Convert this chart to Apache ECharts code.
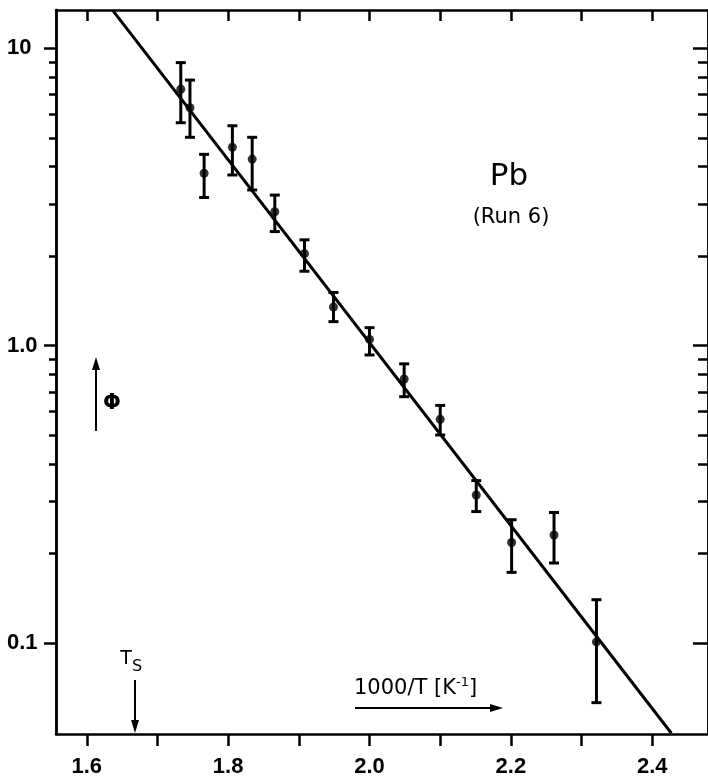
<!DOCTYPE html>
<html>
<head>
<meta charset="utf-8">
<script src="https://cdn.jsdelivr.net/npm/echarts@6/dist/echarts.min.js"></script>
<style>
  html, body { margin: 0; padding: 0; background: #fff; }
  #main { width: 708px; height: 782px; }
</style>
</head>
<body>
<div id="main"></div>
<script>
// measured points, 1000/T in K^-1 and phi (log scale)
var invT = [1.733, 1.746, 1.766, 1.806, 1.834, 1.866, 1.908, 1.949, 2.000, 2.049, 2.100, 2.151, 2.201, 2.261, 2.321];
var phi = [7.28, 6.31, 3.80, 4.65, 4.24, 2.82, 2.04, 1.35, 1.05, 0.773, 0.566, 0.315, 0.218, 0.231, 0.101];
var phiHigh = [8.95, 7.82, 4.40, 5.49, 5.02, 3.21, 2.27, 1.51, 1.15, 0.869, 0.630, 0.352, 0.260, 0.275, 0.140];
var phiLow = [5.62, 5.02, 3.15, 3.75, 3.34, 2.42, 1.78, 1.205, 0.931, 0.674, 0.501, 0.277, 0.173, 0.186, 0.0631];

// fitted straight line
var fitX = [1.637, 2.427];
var fitY = [13.38, 0.0498];

// axis ticks
var xTicks = [1.6, 1.7, 1.8, 1.9, 2.0, 2.1, 2.2, 2.3, 2.4];
var xLabels = [1.6, 1.8, 2.0, 2.2, 2.4];
var yMajor = [0.1, 1, 10];
var yMinor = [0.2, 0.3, 0.4, 0.5, 0.6, 0.7, 0.8, 0.9, 2, 3, 4, 5, 6, 7, 8, 9];
var yLabelText = { '-1': '0.1', '0': '1.0', '1': '10' };

var lg = function (v) { return Math.log10(v) };
var X_MIN = 1.5565, X_MAX = 2.4788;
var Y_MIN = lg(0.0495), Y_MAX = lg(13.45);
var FONT = 'Liberation Sans';

var chart = echarts.init(document.getElementById('main'));

function xAxis(pos, showLabel, inside, len) {
  return {
    type: 'value', position: pos, min: X_MIN, max: X_MAX,
    axisLine: { show: true, onZero: false, lineStyle: { color: '#000', width: 2.5 } },
    axisTick: { show: true, inside: inside, length: len, customValues: xTicks, lineStyle: { color: '#000', width: 2.5 } },
    axisLabel: {
      show: showLabel, customValues: xLabels, margin: 22,
      color: '#000', fontSize: 22, fontWeight: 'bold', fontFamily: FONT,
      formatter: function (v) { return v.toFixed(1) }
    },
    splitLine: { show: false }
  };
}

function yAxis(pos, vals, len, inside, showLabel) {
  return {
    type: 'value', position: pos, min: Y_MIN, max: Y_MAX,
    axisLine: { show: true, onZero: false, lineStyle: { color: '#000', width: 2.5 } },
    axisTick: { show: true, inside: inside, length: len, customValues: vals.map(lg), lineStyle: { color: '#000', width: 2.5 } },
    axisLabel: {
      show: showLabel, customValues: yMajor.map(lg), margin: 49, align: 'left',
      color: '#000', fontSize: 22, fontWeight: 'bold', fontFamily: FONT,
      formatter: function (v) { return yLabelText[String(Math.round(v))] }
    },
    splitLine: { show: false }
  };
}

var barData = invT.map(function (x, i) { return [x, lg(phiLow[i]), lg(phiHigh[i])] });

function arrowHead(x, y, dir) {
  // small filled triangle, tip at (x, y)
  var s = 4, l = 13, pts;
  if (dir === 'up') pts = [[x, y], [x - s, y + l], [x + s, y + l]];
  else if (dir === 'down') pts = [[x, y], [x - s, y - l], [x + s, y - l]];
  else pts = [[x, y], [x - l, y - s], [x - l, y + s]];
  return { type: 'polygon', shape: { points: pts }, style: { fill: '#000' } };
}

chart.setOption({
  animation: false,
  backgroundColor: '#fff',
  grid: { left: 56, top: 10, width: 658, height: 724, containLabel: false },
  xAxis: [xAxis('bottom', true, false, 12), xAxis('top', false, true, 11)],
  yAxis: [
    yAxis('left', yMajor, 12, false, true),
    yAxis('left', yMinor, 7, false, false),
    yAxis('right', yMajor, 15, true, false),
    yAxis('right', yMinor, 10, true, false)
  ],
  series: [
    {
      type: 'line',
      data: fitX.map(function (x, i) { return [x, lg(fitY[i])] }),
      showSymbol: false,
      lineStyle: { color: '#000', width: 3 },
      z: 3
    },
    {
      type: 'custom',
      data: barData,
      renderItem: function (params, api) {
        var lo = api.coord([api.value(0), api.value(1)]);
        var hi = api.coord([api.value(0), api.value(2)]);
        var w = 5;
        var st = { stroke: '#000', lineWidth: 3 };
        return {
          type: 'group',
          children: [
            { type: 'line', shape: { x1: lo[0], y1: lo[1], x2: hi[0], y2: hi[1] }, style: st },
            { type: 'line', shape: { x1: lo[0] - w, y1: lo[1], x2: lo[0] + w, y2: lo[1] }, style: st },
            { type: 'line', shape: { x1: hi[0] - w, y1: hi[1], x2: hi[0] + w, y2: hi[1] }, style: st }
          ]
        };
      },
      encode: { x: 0, y: [1, 2] },
      z: 4
    },
    {
      type: 'scatter',
      data: invT.map(function (x, i) { return [x, lg(phi[i])] }),
      symbol: 'circle',
      symbolSize: 9,
      itemStyle: { color: '#000' },
      z: 5
    }
  ],
  graphic: [
    { type: 'text', x: 509, y: 177, style: { text: 'Pb', font: '31px "DejaVu Sans"', fill: '#000', textAlign: 'center', textVerticalAlign: 'middle' } },
    { type: 'text', x: 511, y: 218, style: { text: '(Run 6)', font: '21px "DejaVu Sans"', fill: '#000', textAlign: 'center', textVerticalAlign: 'middle' } },
    // phi arrow
    { type: 'line', shape: { x1: 96, y1: 431, x2: 96, y2: 368 }, style: { stroke: '#000', lineWidth: 2 } },
    arrowHead(96, 357, 'up'),
    { type: 'text', x: 112, y: 404, style: { text: 'Φ', font: 'bold 21px "DejaVu Sans"', fill: '#000', textAlign: 'center', textVerticalAlign: 'middle' } },
    // T_s marker
    { type: 'text', x: 126, y: 659, style: { text: 'T', font: '19px "DejaVu Sans"', fill: '#000', textAlign: 'center', textVerticalAlign: 'middle' } },
    { type: 'text', x: 137, y: 667, style: { text: 'S', font: '16px "DejaVu Sans"', fill: '#000', textAlign: 'center', textVerticalAlign: 'middle' } },
    { type: 'line', shape: { x1: 135, y1: 680, x2: 135, y2: 722 }, style: { stroke: '#000', lineWidth: 2 } },
    arrowHead(135, 733, 'down'),
    // x axis title with arrow
    {
      type: 'text', x: 354, y: 699,
      style: {
        text: '{m|1000/T [K}{s|-1}{m|]}',
        textVerticalAlign: 'bottom',
        rich: {
          m: { font: '21px "DejaVu Sans"', fill: '#000', verticalAlign: 'bottom' },
          s: { font: '13px "DejaVu Sans"', fill: '#000', verticalAlign: 'top', padding: [0, 0, 10, 0] }
        }
      }
    },
    { type: 'line', shape: { x1: 355, y1: 708, x2: 492, y2: 708 }, style: { stroke: '#000', lineWidth: 2 } },
    arrowHead(503, 708, 'right')
  ]
});
</script>
</body>
</html>
